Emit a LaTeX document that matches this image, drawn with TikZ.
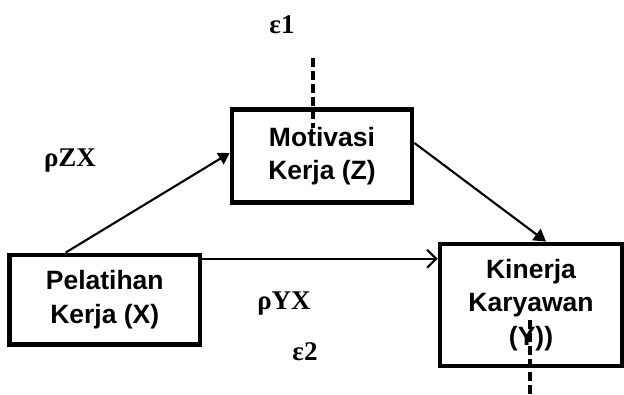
\documentclass[tikz,border=0pt]{standalone}
\usepackage{fontspec}
\setmainfont{Liberation Serif}
\newfontfamily\boxfont{Liberation Sans}
\usetikzlibrary{arrows.meta}
\begin{document}
\begin{tikzpicture}[x=1pt,y=1pt,
  varbox/.style={draw, line width=4.8pt, rectangle, inner sep=0pt, align=center,
    font=\boxfont\bfseries\fontsize{26.5}{33.5}\selectfont},
  pathlabel/.style={font=\bfseries\fontsize{27}{30}\selectfont, inner sep=0pt},
  conn/.style={line width=2.1pt},
  errline/.style={line width=3.2pt, dash pattern=on 9pt off 4pt}]
\useasboundingbox (0,0) rectangle (624,394);
\node[varbox, minimum width=180pt, minimum height=93pt] (Z) at (322,238) {Motivasi\\Kerja (Z)};
\node[varbox, minimum width=190.5pt, minimum height=89.5pt] (X) at (104.75,94.25) {Pelatihan\\Kerja (X)};
\node[varbox, minimum width=182pt, minimum height=122pt] (Y) at (531,89) {Kinerja\\Karyawan\\(Y))};
\draw[conn, -{Triangle[length=11pt,width=13pt]}] ([xshift=58.5pt]X.north west) -- ([yshift=3pt]Z.west);
\draw[conn, -{Straight Barb[length=9pt,width=18pt,line width=2.1pt]}] ([yshift=41pt]X.east) -- ([yshift=41pt]X.east -| Y.west);
\draw[conn, -{Triangle[length=12pt,width=14pt]}] ([yshift=13pt]Z.east) -- ([xshift=15pt]Y.north);
\coordinate (e1a) at (313,336);
\coordinate (e1b) at (313,266);
\coordinate (e2a) at (530,74);
\coordinate (e2b) at (530,0);
\draw[errline] (e1a) -- (e1b);
\draw[errline] (e2a) -- (e2b);
\node[pathlabel] (eps1) at (282,369) {ε1};
\node[pathlabel] (rzx) at (70,233) {ρZX};
\node[pathlabel] (ryx) at (284,90) {ρYX};
\node[pathlabel] (eps2) at (305,42) {ε2};
\end{tikzpicture}
\end{document}
